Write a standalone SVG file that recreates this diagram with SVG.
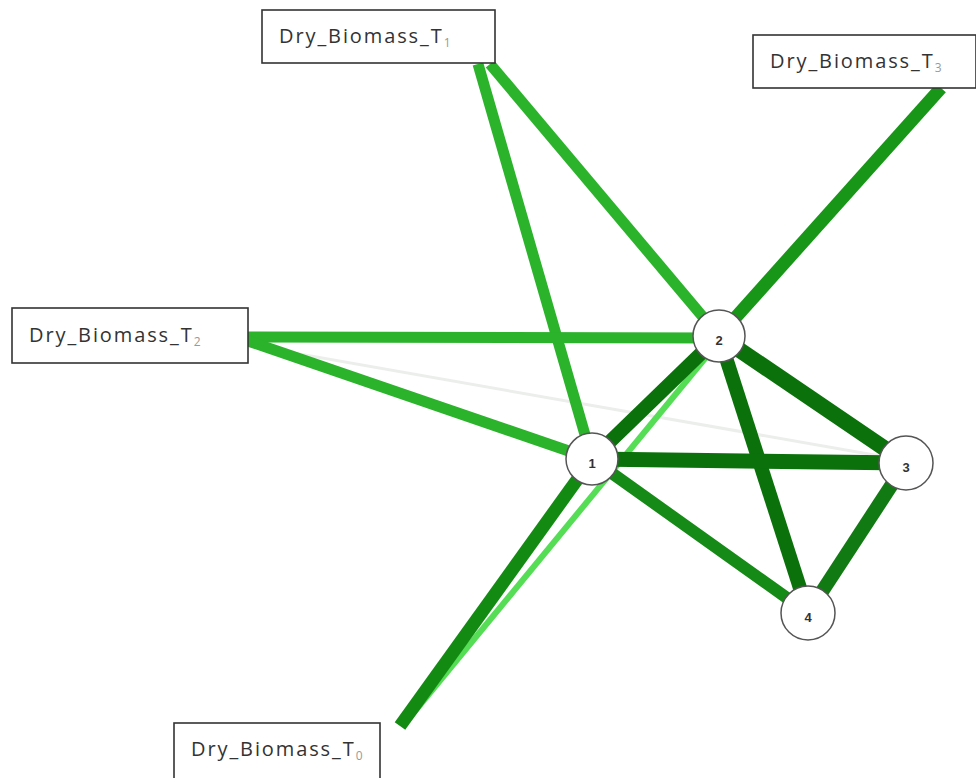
<svg xmlns="http://www.w3.org/2000/svg" width="976" height="778" viewBox="0 0 976 778">
<style>
.box{fill:#fff;stroke:#333;stroke-width:1.6}
.bl{font-family:"Open Sans","Liberation Sans",sans-serif;font-size:20px;letter-spacing:1.9px;fill:#333}
.sub{font-size:12px;fill:#999;letter-spacing:0}
.e{stroke-linecap:butt;fill:none}
.lg{stroke:#2bb32b;stroke-width:11}
.dk{stroke:#0b720b}
.nd{fill:#fff;stroke:#555;stroke-width:1.5}
.nl{font-family:"Liberation Sans",Arial,sans-serif;font-size:13px;font-weight:bold;fill:#333;text-anchor:middle}
</style>
<rect width="976" height="778" fill="#fff"/>
<g id="connectors">
<line class="e" x1="248" y1="345" x2="880" y2="456" stroke="#eceeec" stroke-width="3"/>
<line class="e lg" x1="478" y1="64" x2="592" y2="459"/>
<line class="e lg" x1="490" y1="64" x2="719" y2="336"/>
<line class="e lg" x1="248" y1="337" x2="719" y2="338"/>
<line class="e lg" x1="248" y1="341" x2="592" y2="459"/>
<line class="e" x1="941" y1="88" x2="719" y2="336" stroke="#179617" stroke-width="13"/>
<line class="e" x1="406" y1="722" x2="712" y2="350" stroke="#55dd55" stroke-width="6"/>
<line class="e" x1="400" y1="726" x2="592" y2="459" stroke="#138b13" stroke-width="13"/>
<line class="e dk" x1="592" y1="459" x2="719" y2="336" stroke-width="14"/>
<line class="e dk" x1="719" y1="336" x2="906" y2="463" stroke-width="16"/>
<line class="e dk" x1="719" y1="336" x2="808" y2="613" stroke-width="14"/>
<line class="e dk" x1="592" y1="459" x2="906" y2="463" stroke-width="15"/>
<line class="e" x1="592" y1="459" x2="808" y2="613" stroke="#168a16" stroke-width="12"/>
<line class="e" x1="906" y1="463" x2="808" y2="613" stroke="#127a12" stroke-width="14"/>
</g>
<g id="T1"><rect class="box" x="262" y="10" width="233" height="53"/><text class="bl" x="279" y="43">Dry_Biomass_T<tspan class="sub" dy="4" fill="#333">1</tspan></text></g>
<g id="T3"><rect class="box" x="753" y="35" width="223" height="53"/><text class="bl" x="770" y="68">Dry_Biomass_T<tspan class="sub" dy="4">3</tspan></text></g>
<g id="T2"><rect class="box" x="12" y="308" width="236" height="55"/><text class="bl" x="29" y="342">Dry_Biomass_T<tspan class="sub" dy="4" fill="#666">2</tspan></text></g>
<g id="T0"><rect class="box" x="174" y="723" width="206" height="60"/><text class="bl" x="191" y="756">Dry_Biomass_T<tspan class="sub" dy="4">0</tspan></text></g>
<g id="n1"><circle class="nd" cx="592" cy="459" r="26"/><text class="nl" x="592" y="468">1</text></g>
<g id="n2"><circle class="nd" cx="719" cy="336" r="26"/><text class="nl" x="719" y="345">2</text></g>
<g id="n3"><circle class="nd" cx="906" cy="463" r="27"/><text class="nl" x="906" y="472">3</text></g>
<g id="n4"><circle class="nd" cx="808" cy="613" r="27"/><text class="nl" x="808" y="622">4</text></g>
</svg>
